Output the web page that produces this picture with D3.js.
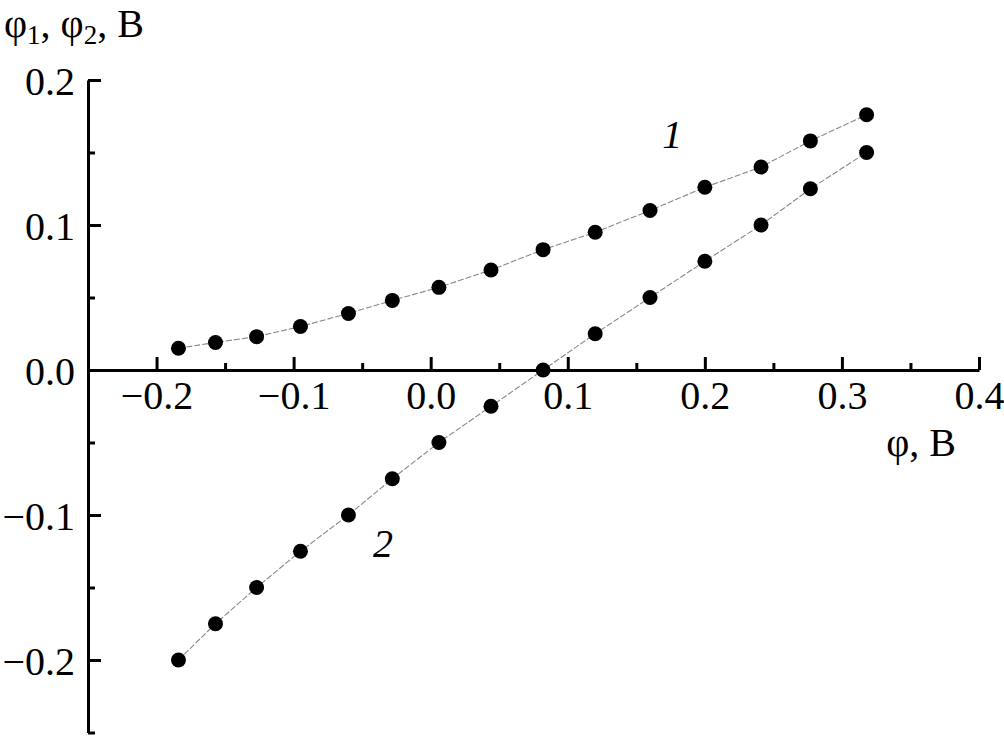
<!DOCTYPE html>
<html>
<head>
<meta charset="utf-8">
<script src="https://cdn.jsdelivr.net/npm/d3@7.9.0/dist/d3.min.js"></script>
<style>
  body { margin: 0; background: #fff; }
  svg text { font-family: "Liberation Serif", "Times New Roman", serif; fill: #000; }
</style>
</head>
<body>
<svg id="chart" width="1004" height="736"></svg>
<script>
// phi, V (x) and the two measured potentials (y)
const phi = [-0.184, -0.157, -0.127, -0.095, -0.060, -0.028, 0.006, 0.044, 0.082, 0.120, 0.160, 0.200, 0.241, 0.277, 0.318];
const phi1 = [0.015, 0.019, 0.023, 0.030, 0.039, 0.048, 0.057, 0.069, 0.083, 0.095, 0.110, 0.126, 0.140, 0.158, 0.176];
const phi2 = [-0.200, -0.175, -0.150, -0.125, -0.100, -0.075, -0.050, -0.025, 0.000, 0.025, 0.050, 0.075, 0.100, 0.125, 0.150];

const xMajor = [-0.2, -0.1, 0.0, 0.1, 0.2, 0.3, 0.4];
const xMinor = [-0.15, -0.05, 0.05, 0.15, 0.25, 0.35];
const yMajor = [-0.2, -0.1, 0.0, 0.1, 0.2];
const yMinor = [-0.25, -0.15, -0.05, 0.05, 0.15];

const curveLabels = [
  { text: "1", x: 0.169, y: 0.153 },
  { text: "2", x: -0.042, y: -0.129 }
];

const svg = d3.select("#chart");
const x = d3.scaleLinear().domain([-0.25, 0.4]).range([88, 979]);
const y = d3.scaleLinear().domain([-0.25, 0.2]).range([732.5, 80]);
const fmt = d3.format(".1f");
const fs = 40;

// x axis sits at y = 0
const gx = svg.append("g").attr("transform", `translate(0,${y(0)})`);
gx.call(d3.axisBottom(x).tickValues(xMajor).tickFormat(fmt).tickSizeInner(-13).tickSizeOuter(0).tickPadding(11));
gx.append("g").call(d3.axisBottom(x).tickValues(xMinor).tickFormat("").tickSizeInner(-7).tickSizeOuter(0))
  .select(".domain").remove();

const gy = svg.append("g").attr("transform", `translate(${x(-0.25)},0)`);
gy.call(d3.axisLeft(y).tickValues(yMajor).tickFormat(fmt).tickSizeInner(-13).tickSizeOuter(0).tickPadding(13));
gy.append("g").call(d3.axisLeft(y).tickValues(yMinor).tickFormat("").tickSizeInner(-7).tickSizeOuter(0))
  .select(".domain").remove();

svg.selectAll(".domain").attr("stroke", "#000").attr("stroke-width", 3);
svg.selectAll(".tick line").attr("stroke", "#000").attr("stroke-width", 3);
svg.selectAll(".tick text").attr("font-size", fs).attr("font-family", "Liberation Serif");
gy.selectAll(".tick text").attr("dy", "0.35em");

// curves
const line = d3.line().x((d) => x(d[0])).y((d) => y(d[1]));
[phi1, phi2].forEach((vals) => {
  const pts = phi.map((p, i) => [p, vals[i]]);
  svg.append("path")
    .attr("d", line(pts))
    .attr("fill", "none")
    .attr("stroke", "#888")
    .attr("stroke-width", 1.1)
    .attr("stroke-dasharray", "6,2");
  svg.append("g").selectAll("circle").data(pts).join("circle")
    .attr("cx", (d) => x(d[0]))
    .attr("cy", (d) => y(d[1]))
    .attr("r", 7.5)
    .attr("fill", "#000");
});

// curve numbers
svg.selectAll(".curve-label").data(curveLabels).join("text")
  .attr("class", "curve-label")
  .attr("x", (d) => x(d.x))
  .attr("y", (d) => y(d.y))
  .attr("font-size", fs)
  .attr("font-style", "italic")
  .text((d) => d.text);

// axis titles
const yt = svg.append("text").attr("x", 4).attr("y", 37).attr("font-size", fs);
yt.append("tspan").text("φ");
yt.append("tspan").attr("font-size", 27).attr("dy", 7).text("1");
yt.append("tspan").attr("dy", -7).text(", φ");
yt.append("tspan").attr("font-size", 27).attr("dy", 7).text("2");
yt.append("tspan").attr("dy", -7).text(", B");

svg.append("text").attr("x", 956).attr("y", 456).attr("text-anchor", "end")
  .attr("font-size", fs).text("φ, B");
</script>
</body>
</html>
